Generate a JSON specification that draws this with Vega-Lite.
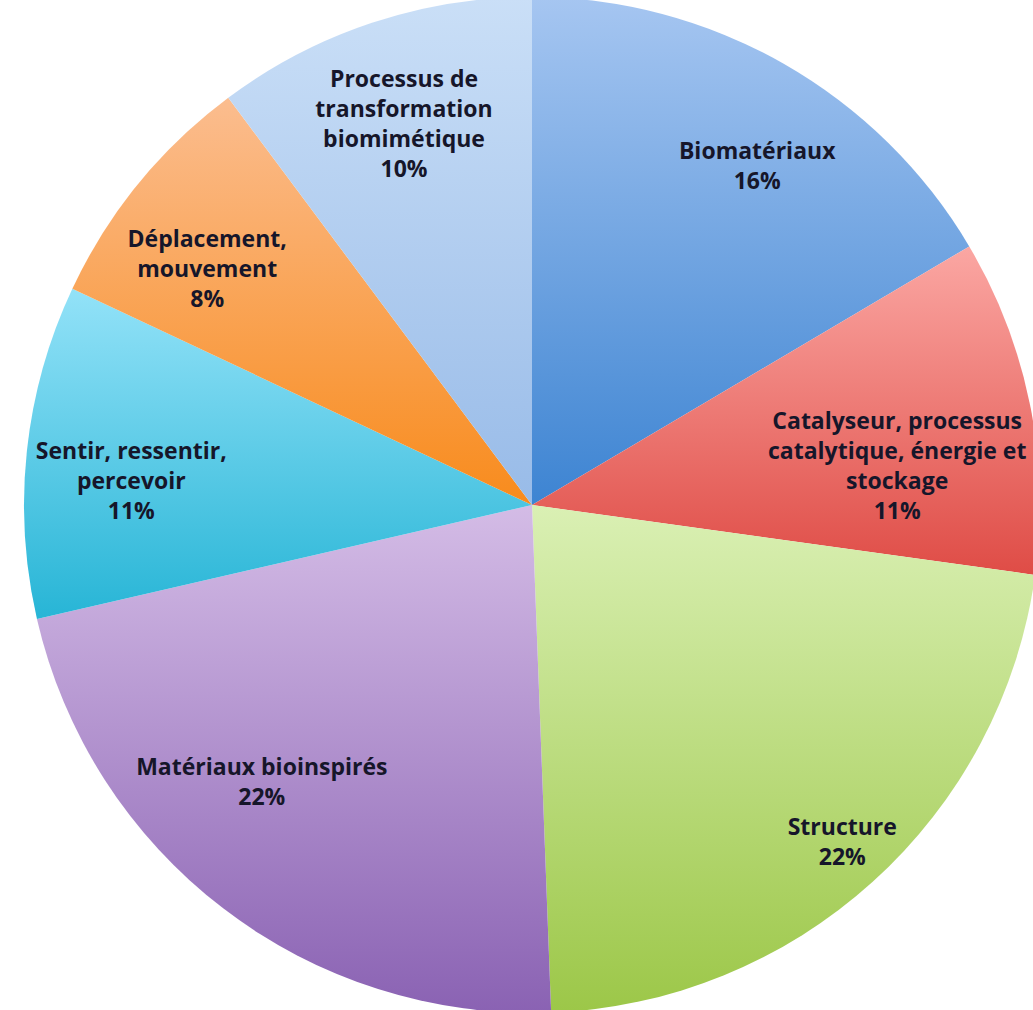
{
  "$schema": "https://vega.github.io/schema/vega-lite/v6.json",
  "autosize": "none",
  "padding": 0,
  "width": 1064,
  "height": 1010,
  "background": "white",
  "config": {"view": {"stroke": null}},
  "data": {
    "values": [
      {"name": "Biomatériaux", "value": 16.5, "order": 1, "lines": ["Biomatériaux", "16%"]},
      {"name": "Catalyseur", "value": 10.7, "order": 2, "lines": ["Catalyseur, processus", "catalytique, énergie et", "stockage", "11%"]},
      {"name": "Structure", "value": 22.2, "order": 3, "lines": ["Structure", "22%"]},
      {"name": "Matériaux bioinspirés", "value": 22.0, "order": 4, "lines": ["Matériaux bioinspirés", "22%"]},
      {"name": "Sentir", "value": 10.6, "order": 5, "lines": ["Sentir, ressentir,", "percevoir", "11%"]},
      {"name": "Déplacement", "value": 7.8, "order": 6, "lines": ["Déplacement,", "mouvement", "8%"]},
      {"name": "Processus", "value": 10.2, "order": 7, "lines": ["Processus de", "transformation", "biomimétique", "10%"]}
    ]
  },
  "encoding": {
    "theta": {"field": "value", "type": "quantitative", "stack": true},
    "order": {"field": "order", "type": "quantitative", "sort": "ascending"}
  },
  "layer": [
    {
      "mark": {"type": "arc", "outerRadius": 508},
      "encoding": {
        "fill": {
          "condition": [
            {"test": "datum.name === 'Biomatériaux'", "value": {"gradient": "linear", "x1": 0, "y1": 0, "x2": 0, "y2": 1, "stops": [{"offset": 0, "color": "#a6c6f1"}, {"offset": 1, "color": "#3d84d2"}]}},
            {"test": "datum.name === 'Catalyseur'", "value": {"gradient": "linear", "x1": 0, "y1": 0, "x2": 0, "y2": 1, "stops": [{"offset": 0, "color": "#fba7a3"}, {"offset": 1, "color": "#df4c46"}]}},
            {"test": "datum.name === 'Structure'", "value": {"gradient": "linear", "x1": 0, "y1": 0, "x2": 0, "y2": 1, "stops": [{"offset": 0, "color": "#daf0b4"}, {"offset": 1, "color": "#9cc748"}]}},
            {"test": "datum.name === 'Matériaux bioinspirés'", "value": {"gradient": "linear", "x1": 0, "y1": 0, "x2": 0, "y2": 1, "stops": [{"offset": 0, "color": "#d4bce6"}, {"offset": 1, "color": "#8a62b3"}]}},
            {"test": "datum.name === 'Sentir'", "value": {"gradient": "linear", "x1": 0, "y1": 0, "x2": 0, "y2": 1, "stops": [{"offset": 0, "color": "#93e2f8"}, {"offset": 1, "color": "#27b5d6"}]}},
            {"test": "datum.name === 'Déplacement'", "value": {"gradient": "linear", "x1": 0, "y1": 0, "x2": 0, "y2": 1, "stops": [{"offset": 0, "color": "#fbbd8f"}, {"offset": 1, "color": "#f88b1c"}]}}
          ],
          "value": {"gradient": "linear", "x1": 0, "y1": 0, "x2": 0, "y2": 1, "stops": [{"offset": 0, "color": "#cadff7"}, {"offset": 1, "color": "#98bbe8"}]}
        }
      }
    },
    {
      "mark": {
        "type": "text",
        "radius": 400,
        "font": "Open Sans",
        "fontWeight": "bold",
        "fontSize": 23,
        "lineHeight": 30,
        "align": "center",
        "baseline": "middle",
        "color": "#16162a",
        "dx": {"expr": "datum.name === 'Biomatériaux' ? 27 : datum.name === 'Catalyseur' ? -27 : datum.name === 'Structure' ? 42 : datum.name === 'Matériaux bioinspirés' ? -27 : datum.name === 'Sentir' ? -3 : datum.name === 'Déplacement' ? -15 : -2"},
        "dy": {"expr": "datum.name === 'Biomatériaux' ? -6 : datum.name === 'Catalyseur' ? -4 : datum.name === 'Structure' ? 26 : datum.name === 'Matériaux bioinspirés' ? -55 : datum.name === 'Sentir' ? -10 : datum.name === 'Déplacement' ? -12 : -45"}
      },
      "encoding": {
        "text": {"field": "lines", "type": "nominal"}
      }
    }
  ]
}
